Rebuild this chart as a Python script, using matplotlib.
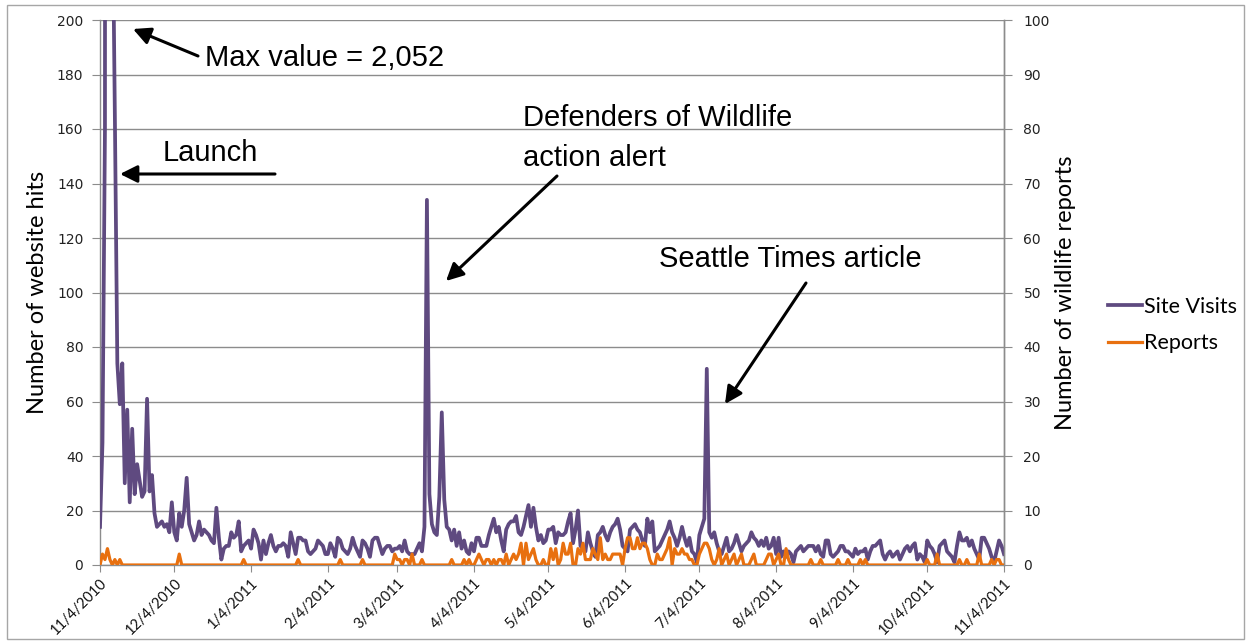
import matplotlib
matplotlib.use("Agg")
import matplotlib.pyplot as plt
import pandas as pd
from matplotlib.patches import Rectangle, FancyArrowPatch

# ---------------- data ----------------
start_date = "2010-11-04"
end_date = "2011-11-04"

site_visits = [
    14, 45, 160, 2052, 700, 250, 165, 74, 59, 74,
    30, 57, 23, 50, 26, 37, 31, 25, 27, 61,
    27, 33, 19, 14, 15, 16, 14, 15, 12, 23,
    12, 9, 19, 14, 20, 32, 15, 12, 9, 11,
    16, 11, 13, 12, 11, 9, 8, 21, 10, 2,
    6, 7, 7, 12, 10, 11, 16, 5, 7, 8,
    9, 6, 13, 11, 8, 2, 9, 4, 8, 11,
    7, 5, 7, 7, 8, 7, 3, 12, 8, 4,
    10, 10, 9, 9, 5, 4, 5, 6, 9, 8,
    7, 4, 4, 8, 6, 3, 10, 9, 6, 5,
    4, 6, 10, 7, 5, 3, 9, 8, 6, 3,
    9, 10, 10, 7, 4, 6, 7, 7, 5, 6,
    6, 7, 5, 9, 5, 4, 4, 4, 6, 8,
    5, 14, 134, 26, 15, 12, 11, 25, 56, 24,
    14, 13, 9, 13, 7, 12, 6, 9, 5, 4,
    8, 5, 10, 10, 7, 7, 7, 11, 14, 17,
    12, 14, 9, 5, 13, 15, 16, 16, 18, 12,
    11, 14, 18, 22, 14, 21, 14, 9, 11, 8,
    9, 13, 13, 14, 8, 12, 11, 11, 12, 16,
    19, 8, 13, 20, 7, 6, 5, 12, 8, 5,
    3, 11, 12, 14, 11, 9, 12, 14, 15, 17,
    13, 7, 6, 5, 13, 14, 15, 13, 12, 9,
    7, 17, 12, 16, 5, 6, 7, 9, 11, 13,
    16, 12, 10, 7, 10, 14, 10, 7, 10, 5,
    4, 1, 11, 14, 17, 72, 12, 10, 12, 8,
    5, 4, 7, 10, 5, 6, 8, 11, 8, 5,
    7, 8, 9, 12, 10, 9, 7, 9, 7, 10,
    6, 7, 10, 4, 10, 3, 5, 3, 5, 4,
    1, 5, 6, 7, 5, 6, 7, 7, 7, 5,
    7, 4, 3, 9, 9, 4, 3, 4, 5, 7,
    7, 5, 5, 4, 3, 6, 4, 5, 5, 6,
    2, 5, 7, 7, 8, 9, 4, 2, 4, 5,
    3, 4, 5, 2, 4, 6, 7, 5, 7, 8,
    2, 4, 3, 1, 9, 7, 6, 4, 1, 7,
    8, 9, 5, 4, 3, 1, 7, 12, 9, 9,
    10, 7, 9, 6, 4, 2, 10, 10, 8, 6,
    3, 1, 5, 9, 7, 4,
]

reports = [
    0, 2, 1, 3, 1, 0, 1, 0, 1, 0,
    0, 0, 0, 0, 0, 0, 0, 0, 0, 0,
    0, 0, 0, 0, 0, 0, 0, 0, 0, 0,
    0, 0, 2, 0, 0, 0, 0, 0, 0, 0,
    0, 0, 0, 0, 0, 0, 0, 0, 0, 0,
    0, 0, 0, 0, 0, 0, 0, 0, 1, 0,
    0, 0, 0, 0, 0, 0, 0, 0, 0, 0,
    0, 0, 0, 0, 0, 0, 0, 0, 0, 0,
    1, 0, 0, 0, 0, 0, 0, 0, 0, 0,
    0, 0, 0, 0, 0, 0, 0, 1, 0, 0,
    0, 0, 0, 0, 0, 0, 1, 0, 0, 0,
    0, 0, 0, 0, 0, 0, 0, 0, 0, 2,
    1, 1, 0, 1, 1, 0, 2, 0, 0, 0,
    1, 0, 0, 0, 0, 0, 0, 0, 0, 0,
    0, 0, 1, 0, 0, 0, 0, 1, 0, 1,
    0, 0, 1, 2, 1, 0, 1, 1, 0, 1,
    0, 1, 1, 0, 2, 0, 1, 2, 1, 2,
    4, 0, 4, 1, 2, 3, 1, 0, 0, 1,
    0, 0, 3, 1, 3, 0, 1, 4, 2, 2,
    4, 0, 0, 3, 2, 4, 1, 1, 1, 3,
    2, 1, 5, 1, 2, 1, 1, 2, 2, 2,
    2, 0, 3, 5, 5, 3, 3, 5, 3, 4,
    4, 3, 1, 0, 0, 2, 1, 1, 2, 3,
    5, 0, 3, 2, 2, 3, 2, 2, 1, 1,
    0, 0, 2, 3, 4, 4, 3, 1, 0, 1,
    3, 0, 1, 2, 0, 1, 2, 0, 1, 2,
    0, 0, 0, 1, 2, 0, 0, 0, 0, 1,
    2, 2, 0, 1, 2, 0, 0, 3, 1, 0,
    0, 0, 0, 0, 0, 0, 0, 1, 0, 0,
    0, 1, 0, 0, 0, 0, 0, 0, 1, 0,
    0, 0, 1, 0, 0, 0, 0, 1, 0, 1,
    0, 0, 0, 0, 0, 0, 0, 0, 0, 0,
    0, 0, 0, 0, 0, 0, 0, 0, 0, 0,
    0, 0, 0, 0, 1, 0, 0, 0, 2, 0,
    0, 0, 0, 0, 0, 0, 0, 1, 0, 0,
    1, 0, 0, 0, 0, 2, 0, 0, 0, 0,
    1, 0, 1, 1, 0, 0,
]

tick_dates = ["2010-11-04", "2010-12-04", "2011-01-04", "2011-02-04", "2011-03-04",
              "2011-04-04", "2011-05-04", "2011-06-04", "2011-07-04", "2011-08-04",
              "2011-09-04", "2011-10-04", "2011-11-04"]
tick_labels = ["11/4/2010", "12/4/2010", "1/4/2011", "2/4/2011", "3/4/2011",
               "4/4/2011", "5/4/2011", "6/4/2011", "7/4/2011", "8/4/2011",
               "9/4/2011", "10/4/2011", "11/4/2011"]
left_ticks = list(range(0, 201, 20))
right_ticks = list(range(0, 101, 10))

# ---------------- figure ----------------
W, H = 1248, 643
fig = plt.figure(figsize=(W / 100, H / 100), dpi=100)
fig.patch.set_facecolor("white")

def fx(px):
    return px / W

def fy(py):
    return 1 - py / H

PURPLE = "#5F4A80"
ORANGE = "#E8700F"
GRID = "#8C8C8C"

# chart border
fig.add_artist(Rectangle((fx(7), fy(639)), fx(1244) - fx(7), fy(5) - fy(639),
                         transform=fig.transFigure, fill=False,
                         edgecolor="#A6A6A6", lw=1.0))

ax = fig.add_axes([fx(100), fy(565), fx(1004) - fx(100), fy(20) - fy(565)])
dates = pd.date_range(start_date, end_date, freq="D")
ax.plot(dates, site_visits, color=PURPLE, lw=2.7, solid_joinstyle="round",
        label="Site Visits", zorder=3)
ax.set_ylim(0, 200)
ax.set_xlim(dates[0], dates[-1])
ax.set_yticks(left_ticks)
ax.set_yticklabels([str(v) for v in left_ticks], fontsize=10, family="DejaVu Sans",
                   color="#222222")
ax.set_xticks(pd.to_datetime(tick_dates))
ax.set_xticklabels(tick_labels, rotation=45, ha="right", rotation_mode="anchor",
                   fontsize=10.5, family="Lato", color="#111111")
ax.tick_params(axis="x", length=5, color=GRID, pad=3)
ax.tick_params(axis="y", length=6, color=GRID, pad=6)
ax.grid(axis="y", color=GRID, lw=1.0)
ax.set_axisbelow(True)
ax.spines["top"].set_visible(False)
for s in ["left", "bottom", "right"]:
    ax.spines[s].set_color(GRID)
    ax.spines[s].set_linewidth(1.0)
ax.set_ylabel("Number of website hits", fontsize=17, family="Lato", labelpad=6)

ax2 = ax.twinx()
ax2.plot(dates, reports, color=ORANGE, lw=2.3, solid_joinstyle="round",
         label="Reports", zorder=3)
ax2.set_ylim(0, 100)
ax2.set_yticks(right_ticks)
ax2.set_yticklabels([str(v) for v in right_ticks], fontsize=10, family="DejaVu Sans",
                    color="#222222")
ax2.tick_params(axis="y", length=6, color=GRID, pad=8)
for s in ["top", "left", "bottom"]:
    ax2.spines[s].set_visible(False)
ax2.spines["right"].set_color(GRID)
ax2.spines["right"].set_linewidth(1.0)
ax2.set_ylabel("Number of wildlife reports", fontsize=17, family="Lato", labelpad=4)

# legend
h1, l1 = ax.get_legend_handles_labels()
h2, l2 = ax2.get_legend_handles_labels()
fig.legend(h1 + h2, l1 + l2, loc="center left",
           bbox_to_anchor=(fx(1089), fy(325)), frameon=False,
           prop={"family": "Lato", "size": 15.5}, handlelength=1.55,
           handletextpad=0.1, labelspacing=0.75)

# annotations
TXT = dict(fontsize=21, family="Liberation Sans", color="black")
ARW = dict(arrowstyle="-|>", color="black", lw=2.2, mutation_scale=26,
           shrinkA=0, shrinkB=0)

fig.text(fx(205), fy(58), "Max value = 2,052", va="center", ha="left", **TXT)
fig.add_artist(FancyArrowPatch(
    (fx(198), fy(56)), (fx(133), fy(29)), transform=fig.transFigure, **ARW))

fig.text(fx(163), fy(153), "Launch", va="center", ha="left", **TXT)
fig.add_artist(FancyArrowPatch(
    (fx(275), fy(174)), (fx(120), fy(174)), transform=fig.transFigure, **ARW))

fig.text(fx(523), fy(118), "Defenders of Wildlife", va="center", ha="left", **TXT)
fig.text(fx(523), fy(158), "action alert", va="center", ha="left", **TXT)
fig.add_artist(FancyArrowPatch(
    (fx(557), fy(176)), (fx(446), fy(281)), transform=fig.transFigure, **ARW))

fig.text(fx(659), fy(259), "Seattle Times article", va="center", ha="left", **TXT)
fig.add_artist(FancyArrowPatch(
    (fx(806), fy(283)), (fx(725), fy(404)), transform=fig.transFigure, **ARW))

fig.savefig("out.png", dpi=100, facecolor="white")
